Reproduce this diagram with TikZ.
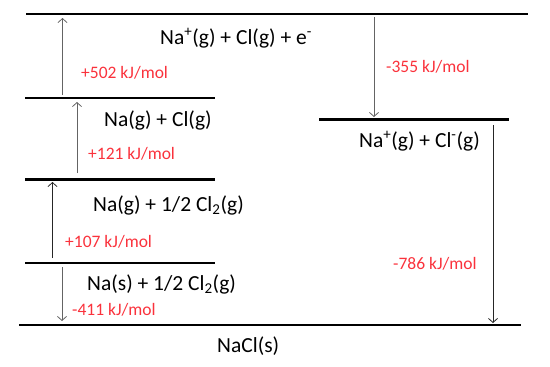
\documentclass[tikz,border=0pt]{standalone}
\usepackage{fontspec}
\setmainfont{Carlito}
\usetikzlibrary{arrows.meta}
\definecolor{lblred}{RGB}{250,50,60}
\definecolor{arrgray}{RGB}{100,100,100}
\tikzset{
  level/.style={line width=2.6pt, black},
  jump/.style={line width=0.8pt, arrgray, -{Straight Barb[length=4pt,width=9pt]}},
  jumpdark/.style={jump, draw=black!85},
  species/.style={anchor=base west, inner sep=0pt, font=\fontsize{21.5}{25}\selectfont},
  energy/.style={anchor=base west, inner sep=0pt, text=lblred, font=\fontsize{17.5}{21}\selectfont},
}
\begin{document}
\begin{tikzpicture}[x=1pt,y=-1pt]
\useasboundingbox (0,0) rectangle (550,367);
% level end points
\coordinate (l1a) at (26,14);   \coordinate (l1b) at (528,14);
\coordinate (l2a) at (25,98);   \coordinate (l2b) at (215,98);
\coordinate (l3a) at (319,119.5); \coordinate (l3b) at (509,119.5);
\coordinate (l4a) at (25,179.5); \coordinate (l4b) at (215,179.5);
\coordinate (l5a) at (25,263);  \coordinate (l5b) at (215,263);
\coordinate (l6a) at (19,325);  \coordinate (l6b) at (521,325);
\draw[level] (l1a) -- (l1b);
\draw[level] (l2a) -- (l2b);
\draw[level] (l3a) -- (l3b);
\draw[level] (l4a) -- (l4b);
\draw[level] (l5a) -- (l5b);
\draw[level] (l6a) -- (l6b);
% arrow end points
\coordinate (a1s) at (62.5,95);  \coordinate (a1e) at (62.5,18);
\coordinate (a2s) at (77,173);   \coordinate (a2e) at (77,102);
\coordinate (a3s) at (52.5,258); \coordinate (a3e) at (52.5,182);
\coordinate (a4s) at (62,267);   \coordinate (a4e) at (62,321);
\coordinate (a5s) at (374,17);   \coordinate (a5e) at (374,117);
\coordinate (a6s) at (493,125);  \coordinate (a6e) at (493,323);
\draw[jump] (a1s) -- (a1e);
\draw[jump] (a2s) -- (a2e);
\draw[jumpdark] (a3s) -- (a3e);
\draw[jump] (a4s) -- (a4e);
\draw[jump] (a5s) -- (a5e);
\draw[jumpdark] (a6s) -- (a6e);
% species
\node[species] (t1) at (160,44) {Na\textsuperscript{+}(g) + Cl(g) + e\textsuperscript{-}};
\node[species] (t2) at (104,126) {Na(g) + Cl(g)};
\node[species] (t3) at (359,147) {Na\textsuperscript{+}(g) + Cl\textsuperscript{-}(g)};
\node[species] (t4) at (93,211.5) {Na(g) + 1/2 Cl\textsubscript{2}(g)};
\node[species] (t5) at (87,290) {Na(s) + 1/2 Cl\textsubscript{2}(g)};
\node[species] (t6) at (217,352) {NaCl(s)};
% energies
\node[energy] (e1) at (81,78) {+502 kJ/mol};
\node[energy] (e2) at (386,72) {-355 kJ/mol};
\node[energy] (e3) at (88,159) {+121 kJ/mol};
\node[energy] (e4) at (65,247) {+107 kJ/mol};
\node[energy] (e5) at (72,315) {-411 kJ/mol};
\node[energy] (e6) at (393,269) {-786 kJ/mol};
\end{tikzpicture}
\end{document}
